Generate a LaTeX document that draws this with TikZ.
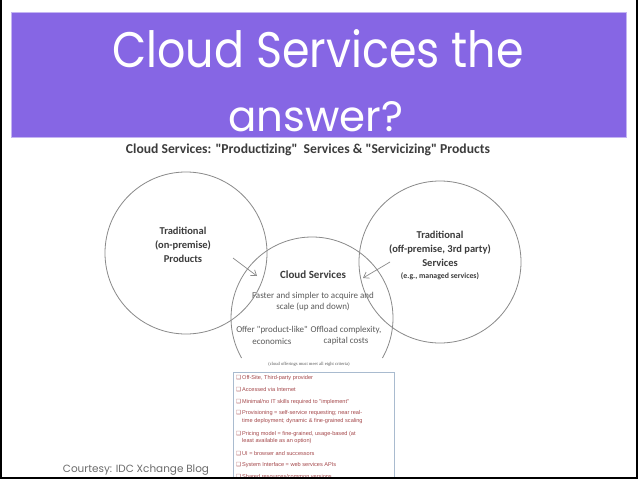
\documentclass[tikz,border=0pt]{standalone}
\usepackage{fontspec}
\usepackage{graphicx}
\newfontfamily\carl{Carlito}
\newfontfamily\titlefont{Poppins}
\newfontfamily\boxfont{Liberation Sans}
\newfontfamily\symfont{DejaVu Sans}
\newfontfamily\notefont{Liberation Serif}
\usetikzlibrary{arrows.meta}
\definecolor{purp}{HTML}{8666E4}
\definecolor{purpedge}{HTML}{C4B5F2}
\definecolor{itemred}{HTML}{A4474A}
\definecolor{boxedge}{HTML}{A9BBCF}
\definecolor{circline}{HTML}{8A8A8A}
\definecolor{txtdark}{HTML}{3C3C3C}
\definecolor{txtmid}{HTML}{5A5A5A}
\tikzset{
  circ/.style={draw=circline, line width=0.8pt},
  arrowln/.style={draw=circline, line width=0.7pt, -{Straight Barb[length=5pt,width=7pt]}},
  boldtxt/.style={inner sep=0pt, align=center, text=txtdark, font=\carl\bfseries\fontsize{10.5}{14}\selectfont},
  regtxt/.style={inner sep=0pt, align=center, text=txtmid, font=\carl\fontsize{9}{11.2}\selectfont},
  itemtxt/.style={inner sep=0pt, anchor=west, align=left, text=itemred, font=\boxfont\fontsize{5.6}{7.6}\selectfont},
  titletext/.style={inner sep=0pt, anchor=base, text=white},
}
\newcommand{\chk}{{\symfont\fontsize{5.6}{6}\selectfont ❑}\,}
\begin{document}
\begin{tikzpicture}[x=1pt,y=-1pt]
\useasboundingbox (0,0) rectangle (638,479);
\clip (0,0) rectangle (638,479);
\fill[white] (0,0) rectangle (638,479);
% purple title band
\fill[purp, draw=purpedge, line width=1pt] (11,12.5) rectangle (626,137);
\node[titletext] (t1) at (318,67) {\resizebox{411pt}{38pt}{\titlefont Cloud Services the}};
\node[titletext] (t2) at (315.5,131) {\resizebox{175pt}{30pt}{\titlefont answer?}};
% subtitle
\node[inner sep=0pt, text=txtdark] (sub) at (308,149.5) {\resizebox{364pt}{!}{\carl\bfseries\fontsize{10}{12}\selectfont Cloud Services: "Productizing"\ \ Services \& "Servicizing" Products}};
% circles
\draw[circ] (186,253) circle[radius=81];
\draw[circ] (440,262) circle[radius=81];
\draw[circ] (312,318) ++(29.6:81) arc[start angle=29.6, end angle=-209.6, radius=81];
% circle texts
\node[boldtxt] (lt) at (183,245) {Traditional\\(on-premise)\\Products};
\node[boldtxt] (rt) at (440,249) {Traditional\\(off-premise, 3rd party)\\Services};
\node[inner sep=0pt, text=txtdark, font=\carl\bfseries\fontsize{7.8}{9}\selectfont] (rt2) at (440,276) {(e.g., managed services)};
\node[inner sep=0pt, text=txtdark, font=\carl\bfseries\fontsize{11}{13}\selectfont] (cs) at (313,275) {Cloud Services};
\node[regtxt] (c1) at (313,301.5) {Faster and simpler to acquire and\\scale (up and down)};
\node[regtxt] (c2) at (272,335.5) {Offer "product-like"\\economics};
\node[regtxt] (c3) at (346,335.5) {Offload complexity,\\capital costs};
\node[inner sep=0pt, text=txtmid, font=\notefont\fontsize{4.6}{5}\selectfont] (note) at (309,364) {(cloud offerings must meet all eight criteria)};
% arrows
\coordinate (la) at (233,258);
\coordinate (ra) at (390,262);
\draw[arrowln] (la) -- (257,276);
\draw[arrowln] (ra) -- (363,278);
% criteria box
\draw[boxedge, line width=1pt, fill=white] (233,372) rectangle (394,500);
\node[itemtxt] (i1) at (236,377.7) {\chk Off-Site, Third-party provider};
\node[itemtxt] (i2) at (236,390) {\chk Accessed via Internet};
\node[itemtxt] (i3) at (236,401.7) {\chk Minimal/no IT skills required to "implement"};
\node[itemtxt] (i4) at (236,417.2) {\chk Provisioning = self-service requesting; near real-\\\phantom{\chk}time deployment; dynamic \& fine-grained scaling};
\node[itemtxt] (i5) at (236,437.4) {\chk Pricing model = fine-grained, usage-based (at\\\phantom{\chk}least available as an option)};
\node[itemtxt] (i6) at (236,453.3) {\chk UI = browser and successors};
\node[itemtxt] (i7) at (236,465.3) {\chk System Interface = web services APIs};
\node[itemtxt] (i8) at (236,477) {\chk Shared resources/common versions};
% courtesy
\node[inner sep=0pt, text=gray!85!black] (cy) at (136,470) {\resizebox{146pt}{!}{\titlefont\fontsize{10}{12}\selectfont Courtesy: IDC Xchange Blog}};
% frame
\fill[black] (0,0) rectangle (2,479);
\fill[black] (636,0) rectangle (638,479);
\fill[black] (0,477) rectangle (638,479);
\end{tikzpicture}
\end{document}
